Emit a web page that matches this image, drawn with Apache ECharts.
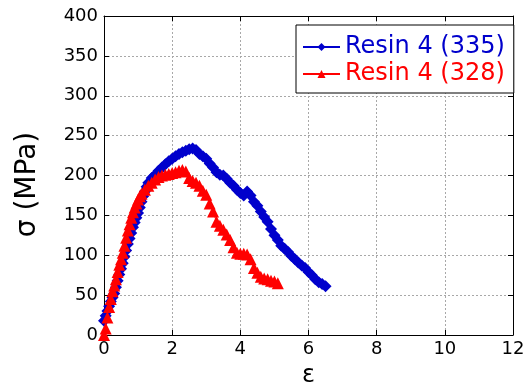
<!DOCTYPE html>
<html><head><meta charset="utf-8">
<script src="https://cdn.jsdelivr.net/npm/echarts@6/dist/echarts.min.js"></script>
<style>html,body{margin:0;padding:0;background:#fff}#c{width:525px;height:384px}</style>
</head><body><div id="c"></div>
<script>
var xTicks = [0, 2, 4, 6, 8, 10, 12];
var yTicks = [0, 50, 100, 150, 200, 250, 300, 350, 400];
var seriesNames = ['Resin 4 (335)', 'Resin 4 (328)'];
var xLabel = 'ε';
var yLabel = 'σ (MPa)';

var strain335 = [0.00,0.05,0.10,0.15,0.20,0.25,0.30,0.35,0.40,0.45,0.50,0.55,0.60,0.65,0.70,0.75,0.80,0.85,0.90,0.95,1.00,1.05,1.10,1.15,1.20,1.25,1.30,1.40,1.50,1.60,1.70,1.80,1.90,2.00,2.10,2.20,2.30,2.40,2.50,2.60,2.70,2.80,2.90,3.00,3.10,3.20,3.30,3.40,3.50,3.60,3.70,3.80,3.90,4.00,4.10,4.20,4.30,4.40,4.50,4.60,4.70,4.80,4.90,5.00,5.10,5.20,5.30,5.40,5.50,5.60,5.70,5.80,5.90,6.00,6.10,6.20,6.30,6.40,6.50];
var stress335 = [18,24,30,36,42,47,52,60,68,76,83,90,98,106,114,121,128,135,141,147,153,160,167,174,180,186,191,197,201,206,210,214,218,221,224,227,229,231,233,234,232,227,224,221,215,210,204,201,200,196,191,187,182,178,175,180,175,167,162,155,148,142,133,125,119,112,108,104,99,95,91,87,84,79,75,70,66,64,61];

var strain328 = [0.00,0.05,0.10,0.15,0.20,0.25,0.30,0.35,0.40,0.45,0.50,0.55,0.60,0.65,0.70,0.75,0.80,0.85,0.90,0.95,1.00,1.05,1.10,1.20,1.30,1.40,1.50,1.60,1.70,1.80,1.90,2.00,2.10,2.20,2.30,2.40,2.50,2.60,2.70,2.80,2.90,3.00,3.10,3.20,3.30,3.40,3.50,3.60,3.70,3.80,3.90,4.00,4.10,4.20,4.30,4.40,4.50,4.60,4.70,4.80,4.90,5.00,5.10];
var stress328 = [0,8,22,35,45,55,62,70,79,88,95,103,112,122,131,139,147,154,160,165,170,174,177,182,187,191,195,198,200,201,202,203,204,206,207,205,197,193,191,187,181,176,165,155,142,137,132,126,119,110,103,102,102,101,95,84,78,73,71,70,68,67,65];

function pairs(xs, ys) { return xs.map(function (x, i) { return [x, ys[i]]; }); }

var font = 'DejaVu Sans';
var chart = echarts.init(document.getElementById('c'), null, {renderer: 'canvas'});
var gridLine = {show: true, lineStyle: {color: '#a8a8a8', type: [2, 2], width: 1}};
chart.setOption({
  animation: false,
  backgroundColor: '#fff',
  grid: {left: 104, right: 12, top: 16, bottom: 49, containLabel: false, outerBoundsMode: 'none'},
  xAxis: [{
    type: 'value', min: 0, max: 12, interval: 2, position: 'bottom',
    name: xLabel, nameLocation: 'middle', nameGap: 29,
    nameTextStyle: {fontFamily: font, fontSize: 24, color: '#000'},
    axisLine: {show: true, onZero: false, lineStyle: {color: '#000', width: 1}},
    axisTick: {show: true, inside: true, length: 5, lineStyle: {color: '#000'}},
    axisLabel: {fontFamily: font, fontSize: 18, color: '#000', margin: 5,
      formatter: function (v) { return xTicks.indexOf(v) >= 0 ? String(v) : ''; }},
    splitLine: gridLine
  }, {
    type: 'value', min: 0, max: 12, interval: 2, position: 'top',
    axisLine: {show: true, onZero: false, lineStyle: {color: '#000', width: 1}},
    axisTick: {show: true, inside: true, length: 5, lineStyle: {color: '#000'}},
    axisLabel: {show: false}, splitLine: {show: false}
  }],
  yAxis: [{
    type: 'value', min: 0, max: 400, interval: 50, position: 'left',
    name: yLabel, nameLocation: 'middle', nameGap: 62, nameRotate: 90,
    nameTextStyle: {fontFamily: font, fontSize: 28, color: '#000', padding: [0, 18, 0, 0]},
    axisLine: {show: true, onZero: false, lineStyle: {color: '#000', width: 1}},
    axisTick: {show: true, inside: true, length: 5, lineStyle: {color: '#000'}},
    axisLabel: {fontFamily: font, fontSize: 18, color: '#000', margin: 6,
      formatter: function (v) { return yTicks.indexOf(v) >= 0 ? String(v) : ''; }},
    splitLine: gridLine
  }, {
    type: 'value', min: 0, max: 400, interval: 50, position: 'right',
    axisLine: {show: true, onZero: false, lineStyle: {color: '#000', width: 1}},
    axisTick: {show: true, inside: true, length: 5, lineStyle: {color: '#000'}},
    axisLabel: {show: false}, splitLine: {show: false}
  }],
  legend: {
    orient: 'vertical', left: 296, top: 25,
    backgroundColor: '#fff', borderColor: '#000', borderWidth: 1,
    padding: [10, 9, 7, 6], itemGap: 3, itemWidth: 37, itemHeight: 10,
    textStyle: {fontFamily: font, fontSize: 24, lineHeight: 24},
    data: [
      {name: seriesNames[0], textStyle: {color: '#0000cc'}},
      {name: seriesNames[1], textStyle: {color: '#ff0000'}}
    ]
  },
  series: [{
    name: seriesNames[0], type: 'line', data: pairs(strain335, stress335),
    symbol: 'diamond', symbolSize: 12, showAllSymbol: true,
    itemStyle: {color: '#0000cc'}, lineStyle: {color: '#0000cc', width: 1}
  }, {
    name: seriesNames[1], type: 'line', data: pairs(strain328, stress328),
    symbol: 'triangle', symbolSize: 12, showAllSymbol: true,
    itemStyle: {color: '#ff0000'}, lineStyle: {color: '#ff0000', width: 1}
  }]
});
</script></body></html>
